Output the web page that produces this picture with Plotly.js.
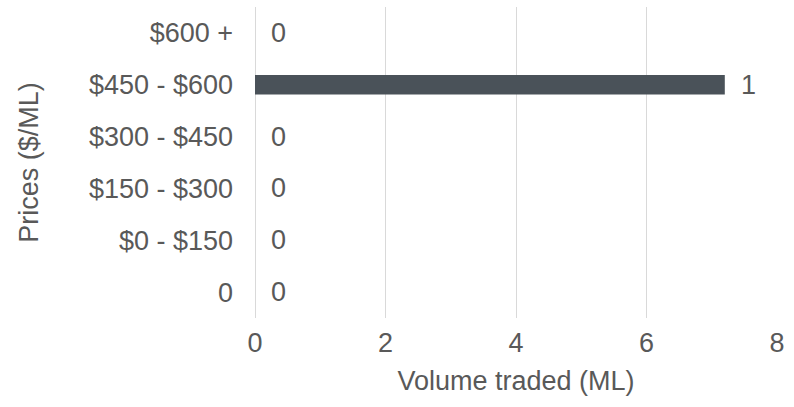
<!DOCTYPE html>
<html>
<head>
<meta charset="utf-8">
<script src="https://cdn.plot.ly/plotly-3.0.1.min.js"></script>
<style>html,body{margin:0;padding:0;background:#fff;}#chart{width:794px;height:407px;}</style>
</head>
<body>
<div id="chart"></div>
<script>
const categories = ["0", "$0 - $150", "$150 - $300", "$300 - $450", "$450 - $600", "$600 +"];
const volumes = [0, 0, 0, 0, 7.2, 0];
const tradeCounts = ["0", "0", "0", "0", "1", "0"];
const xTicks = [0, 2, 4, 6, 8];

const FONT = "'Liberation Sans', Arial, sans-serif";
const GREY = "#595959";
const FS = 27;

const annotations = categories.map((c, i) => ({
  x: volumes[i], y: c, xref: "x", yref: "y",
  text: tradeCounts[i], showarrow: false,
  xanchor: "left", xshift: 14,
  font: {family: FONT, size: FS, color: GREY}
}));

const data = [{
  type: "bar", orientation: "h",
  x: volumes, y: categories,
  marker: {color: "#4a5259"},
  hoverinfo: "skip"
}];

const layout = {
  width: 794, height: 407,
  margin: {l: 255, r: 17, t: 7, b: 89},
  paper_bgcolor: "#fff", plot_bgcolor: "#fff",
  showlegend: false,
  bargap: 0.62,
  font: {family: FONT, size: FS, color: GREY},
  xaxis: {
    range: [0, 8], tickvals: xTicks, ticktext: xTicks.map(String),
    showgrid: true, gridcolor: "#d9d9d9", gridwidth: 1,
    zeroline: true, zerolinecolor: "#d9d9d9", zerolinewidth: 1,
    showline: false, ticks: "", ticklabelstandoff: 6,
    tickfont: {family: FONT, size: FS, color: GREY},
    title: {text: "Volume traded (ML)", font: {family: FONT, size: FS, color: GREY}, standoff: 14},
    fixedrange: true
  },
  yaxis: {
    type: "category", categoryorder: "array", categoryarray: categories,
    showgrid: false, showline: false, zeroline: false, ticks: "",
    ticklabelstandoff: 21,
    tickfont: {family: FONT, size: FS, color: GREY},
    title: {text: "Prices ($/ML)", font: {family: FONT, size: FS, color: GREY}, standoff: 42},
    fixedrange: true
  },
  annotations: annotations
};

Plotly.newPlot("chart", data, layout, {staticPlot: true, displayModeBar: false});
</script>
</body>
</html>
